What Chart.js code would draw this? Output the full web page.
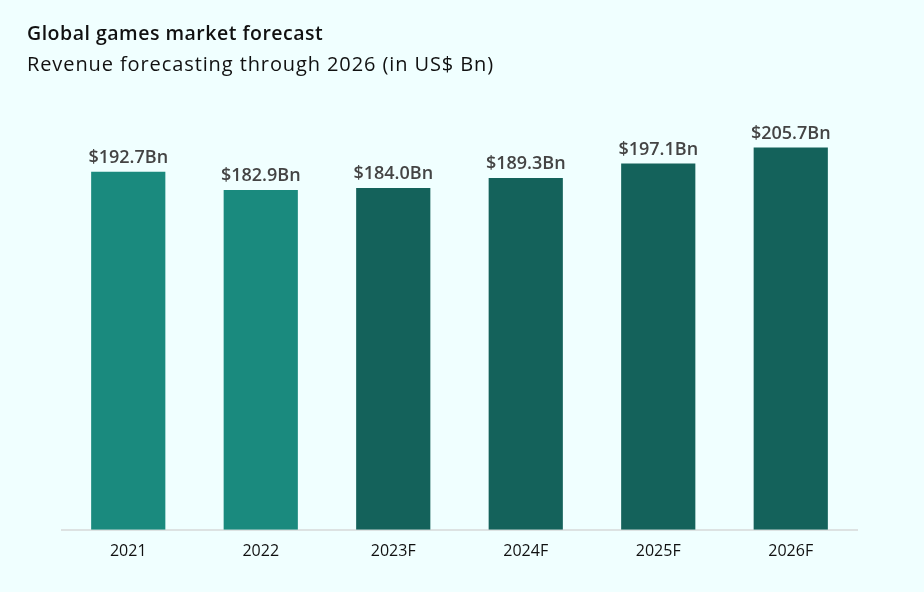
<!DOCTYPE html>
<html lang="en">
<head>
  <meta charset="UTF-8" />
  <script src="https://cdn.jsdelivr.net/npm/chart.js"></script>
  <title>Global games market forecast</title>
  <style>
    body { margin: 0; background: #f0ffff; font-family: "Open Sans", sans-serif; }
    #wrap { position: relative; width: 924px; height: 592px; }
    #title { position: absolute; left: 27px; top: 19px; font-size: 19.5px; font-weight: 600; color: #111; letter-spacing: 0.5px; }
    #subtitle { position: absolute; left: 27px; top: 50px; font-size: 20px; color: #111; letter-spacing: 0.9px; }
    canvas { position: absolute; left: 0; top: 0; }
  </style>
</head>
<body>
  <div id="wrap">
    <canvas id="barChart" width="924" height="592"></canvas>
    <div id="title">Global games market forecast</div>
    <div id="subtitle">Revenue forecasting through 2026 (in US$ Bn)</div>
  </div>

  <script>
    const years = ["2021", "2022", "2023F", "2024F", "2025F", "2026F"];
    const revenue = [192.7, 182.9, 184.0, 189.3, 197.1, 205.7];
    const barColors = ["#1a8a7e", "#1a8a7e", "#14625b", "#14625b", "#14625b", "#14625b"];

    // draws the "$xxx.xBn" text over each bar
    const valueLabels = {
      id: "valueLabels",
      afterDatasetsDraw(chart) {
        const ctx = chart.ctx;
        const meta = chart.getDatasetMeta(0);
        ctx.save();
        ctx.font = "600 18px 'Open Sans', sans-serif";
        ctx.fillStyle = "#444";
        ctx.textAlign = "center";
        ctx.textBaseline = "alphabetic";
        meta.data.forEach((bar, i) => {
          ctx.fillText("$" + revenue[i].toFixed(1) + "Bn", bar.x, bar.y - 9);
        });
        ctx.restore();
      }
    };

    new Chart(document.getElementById("barChart").getContext("2d"), {
      type: "bar",
      data: {
        labels: years,
        datasets: [{
          data: revenue,
          backgroundColor: barColors,
          barPercentage: 0.56,
          categoryPercentage: 1
        }]
      },
      options: {
        responsive: false,
        animation: false,
        layout: { padding: { top: 121, left: 62, right: 67, bottom: 19 } },
        plugins: { legend: { display: false }, tooltip: { enabled: false } },
        scales: {
          y: { display: false, min: 0, max: 220 },
          x: {
            grid: { display: false, drawTicks: false },
            border: { display: true, color: "#dde2e2", width: 2 },
            ticks: { color: "#111", padding: 12, font: { family: "'Open Sans', sans-serif", size: 16 } }
          }
        }
      },
      plugins: [valueLabels]
    });
  </script>
</body>
</html>
